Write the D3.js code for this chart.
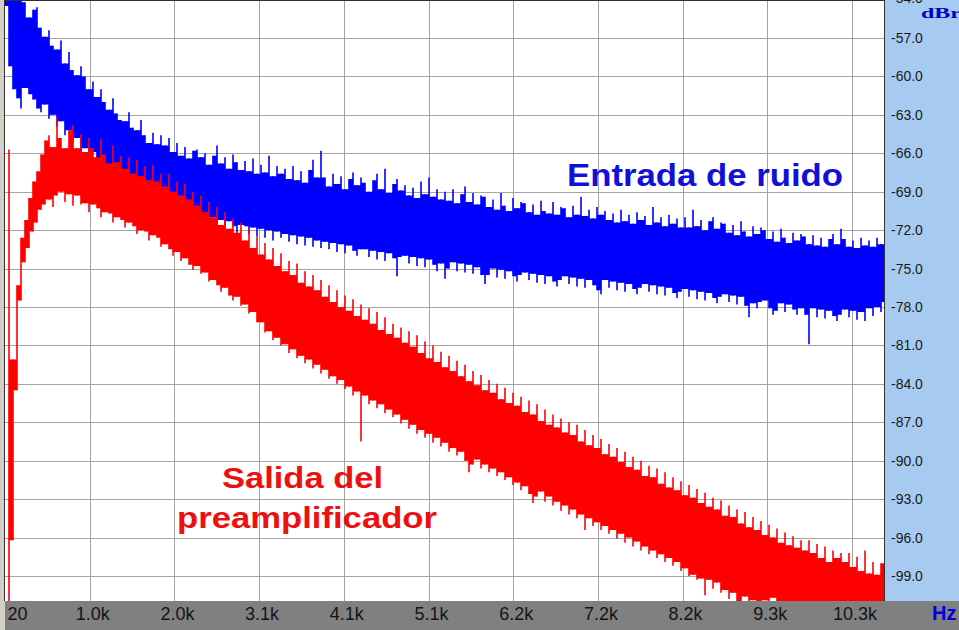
<!DOCTYPE html>
<html><head><meta charset="utf-8">
<script src="https://cdn.jsdelivr.net/npm/d3@7"></script>
<style>html,body{margin:0;padding:0;background:#d4d0c8;overflow:hidden}svg{display:block}</style>
</head><body><svg id="c" width="959" height="630"></svg>
<script>
// ---- data (dB values, one min/max pair per frequency bin) ----
const startHz = 20;
const binHz = 48.44;
const blueUpper = [
-53.0,-53.0,-53.5,-53.0,-53.5,-54.2,-55.4,-54.8,-54.6,-56.2,
-56.9,-56.4,-57.6,-57.9,-57.2,-59.0,-58.1,-59.5,-59.9,-59.2,
-60.0,-61.0,-60.4,-61.6,-61.0,-62.0,-62.6,-61.7,-62.9,-63.4,
-63.5,-62.8,-64.0,-64.2,-63.4,-64.6,-65.2,-64.4,-65.3,-64.6,
-65.4,-64.8,-65.9,-65.2,-66.2,-65.5,-66.4,-65.8,-65.7,-66.3,
-66.0,-66.9,-66.2,-65.4,-66.8,-66.3,-67.2,-66.1,-66.7,-67.3,
-66.6,-67.4,-66.4,-67.6,-66.9,-67.5,-66.2,-67.8,-67.0,-67.6,
-67.2,-68.0,-67.0,-68.1,-67.4,-68.3,-67.3,-66.5,-67.9,-65.8,
-67.9,-68.6,-67.6,-68.4,-67.8,-68.8,-68.0,-67.5,-68.5,-67.9,
-68.3,-69.0,-68.1,-67.6,-68.8,-67.2,-69.1,-68.4,-68.0,-68.9,
-68.5,-69.3,-68.7,-69.5,-68.2,-69.2,-67.9,-69.4,-68.8,-69.6,
-69.0,-69.7,-68.8,-69.9,-69.2,-68.6,-69.8,-69.1,-70.0,-69.3,
-69.4,-70.2,-69.6,-70.4,-69.1,-70.1,-70.5,-69.5,-70.3,-69.8,
-69.9,-70.6,-70.0,-70.8,-69.7,-70.5,-70.7,-69.8,-70.8,-70.2,
-70.3,-71.0,-70.1,-70.8,-69.4,-70.9,-70.4,-71.1,-70.2,-70.8,
-70.5,-71.2,-70.7,-71.4,-70.4,-71.3,-70.8,-71.5,-70.6,-71.2,
-70.9,-71.6,-70.2,-71.4,-71.0,-71.7,-70.8,-71.5,-71.1,-71.8,
-71.0,-71.8,-70.4,-71.7,-71.2,-72.0,-71.3,-71.0,-71.9,-71.4,
-71.5,-72.2,-71.6,-72.4,-71.3,-72.1,-72.5,-71.7,-72.3,-71.8,
-72.0,-72.7,-72.1,-72.9,-71.9,-72.6,-73.0,-72.2,-72.8,-72.3,
-72.5,-73.1,-72.4,-73.2,-72.6,-73.3,-72.7,-72.3,-73.1,-71.9,
-72.7,-73.3,-72.8,-73.4,-72.6,-73.2,-72.8,-73.3,-72.6,-73.1,
-71.8];
const blueLower = [
-54.5,-59.2,-61.0,-61.7,-62.5,-60.9,-61.4,-61.8,-62.5,-62.8,
-62.2,-63.3,-63.0,-63.9,-63.5,-64.6,-64.2,-65.2,-64.8,-65.9,
-65.6,-66.4,-65.9,-66.9,-66.5,-67.5,-67.1,-68.1,-67.8,-68.7,
-68.4,-69.0,-68.7,-69.4,-68.9,-69.6,-69.3,-69.9,-69.5,-70.2,
-69.8,-70.5,-70.0,-70.7,-70.2,-70.9,-70.4,-71.0,-70.5,-71.1,
-70.8,-71.6,-71.0,-71.8,-71.2,-72.0,-71.3,-71.7,-72.2,-71.6,
-71.7,-72.3,-71.8,-72.5,-71.9,-72.6,-72.0,-72.8,-72.1,-72.6,
-72.3,-72.9,-72.4,-73.1,-72.5,-73.2,-72.6,-73.3,-72.8,-73.4,
-72.9,-73.5,-73.0,-73.7,-73.1,-73.8,-73.2,-73.6,-74.0,-73.5,
-73.5,-74.1,-73.6,-74.3,-73.7,-74.4,-73.8,-74.2,-75.6,-74.1,
-74.0,-74.6,-74.1,-74.8,-74.2,-74.9,-74.3,-74.7,-75.2,-74.6,
-75.8,-75.0,-74.5,-75.2,-74.6,-75.3,-74.7,-75.4,-74.9,-75.5,
-76.2,-75.5,-75.0,-75.7,-75.1,-75.8,-75.2,-75.6,-76.0,-75.5,
-75.3,-75.9,-75.4,-76.1,-75.5,-76.2,-75.6,-76.0,-76.4,-75.9,
-75.6,-76.2,-75.7,-76.4,-75.8,-76.5,-75.9,-76.3,-76.7,-77.0,
-75.9,-76.5,-76.0,-76.7,-76.1,-76.8,-76.2,-76.6,-77.0,-76.5,
-76.2,-76.8,-76.3,-77.0,-76.4,-77.1,-76.5,-76.9,-77.3,-76.8,
-76.6,-77.2,-76.7,-77.4,-76.8,-77.5,-76.9,-77.3,-77.7,-77.2,
-77.0,-77.6,-77.1,-77.8,-77.2,-77.9,-78.8,-77.7,-78.1,-77.6,
-77.5,-78.1,-78.6,-78.3,-77.7,-78.4,-77.8,-78.2,-78.6,-78.1,
-78.6,-80.9,-78.1,-78.8,-78.2,-78.9,-78.3,-78.7,-79.1,-78.6,
-78.2,-78.8,-78.3,-79.0,-78.4,-79.1,-78.1,-78.7,-78.0,-78.4,
-77.6];
const redUpper = [
-101.0,-65.7,-82.1,-76.3,-72.6,-71.2,-69.5,-68.2,-67.4,-66.1,
-65.0,-64.6,-65.5,-63.2,-64.8,-65.6,-64.2,-63.8,-65.6,-64.5,
-65.9,-64.8,-65.6,-66.3,-64.9,-66.1,-66.8,-65.4,-66.7,-66.2,
-67.2,-66.3,-67.6,-66.5,-67.8,-67.0,-68.1,-66.9,-68.2,-67.6,
-68.6,-67.6,-69.0,-68.2,-69.3,-68.4,-69.6,-69.0,-70.1,-69.3,
-70.6,-69.8,-71.0,-70.2,-71.6,-70.6,-71.9,-71.1,-72.2,-71.4,
-72.8,-71.9,-73.4,-72.5,-73.9,-73.0,-74.3,-73.4,-74.8,-73.8,
-75.2,-74.4,-75.5,-74.6,-76.1,-75.2,-76.4,-75.5,-76.7,-75.9,
-77.2,-76.3,-77.6,-76.7,-78.0,-77.1,-78.3,-77.4,-78.7,-77.8,
-79.0,-78.1,-79.3,-78.4,-79.8,-78.8,-80.1,-79.3,-80.4,-79.6,
-80.8,-79.9,-81.1,-80.2,-81.6,-80.7,-82.0,-81.0,-82.3,-81.5,
-82.7,-81.8,-83.0,-82.2,-83.4,-82.5,-83.8,-83.0,-84.1,-83.3,
-84.5,-83.7,-84.7,-84.0,-85.2,-84.3,-85.5,-84.7,-85.7,-85.0,
-86.2,-85.3,-86.4,-85.6,-86.9,-86.0,-87.2,-86.4,-87.4,-86.7,
-87.8,-87.0,-88.0,-87.2,-88.5,-87.6,-88.8,-88.0,-89.0,-88.3,
-89.5,-88.7,-89.7,-89.0,-90.1,-89.3,-90.5,-89.7,-90.7,-90.0,
-91.2,-90.4,-91.3,-90.6,-91.8,-90.9,-92.1,-91.3,-92.3,-91.6,
-92.7,-91.9,-92.9,-92.2,-93.3,-92.5,-93.6,-92.9,-93.8,-93.1,
-94.3,-93.5,-94.4,-93.8,-94.9,-94.0,-95.2,-94.4,-95.4,-94.7,
-95.8,-95.0,-96.0,-95.3,-96.4,-95.6,-96.6,-95.9,-96.8,-96.2,
-97.0,-96.2,-97.2,-96.5,-97.6,-96.7,-97.9,-97.0,-97.6,-97.2,
-97.9,-97.2,-98.3,-97.5,-98.6,-97.0,-98.8,-97.9,-98.9,-98.0,
-97.5];
const redLower = [
-102.0,-102.0,-96.2,-84.5,-77.5,-74.5,-73.4,-72.1,-71.4,-70.4,
-70.0,-69.6,-70.2,-69.3,-69.0,-69.8,-69.2,-70.1,-69.3,-70.0,
-69.9,-70.6,-70.0,-70.3,-71.0,-70.6,-70.7,-71.4,-71.0,-71.2,
-71.8,-71.4,-71.7,-72.3,-72.0,-72.1,-72.8,-72.4,-72.6,-73.3,
-73.1,-73.5,-74.0,-73.7,-74.4,-74.2,-74.7,-75.1,-74.8,-75.4,
-75.3,-76.0,-75.9,-76.3,-76.8,-76.5,-77.1,-77.5,-77.2,-77.9,
-77.8,-78.5,-78.4,-79.2,-79.2,-80.0,-79.9,-80.6,-80.4,-81.0,
-80.9,-81.6,-81.3,-82.0,-81.8,-82.4,-82.1,-82.8,-82.5,-83.2,
-82.9,-83.6,-83.4,-84.0,-83.7,-84.4,-84.2,-84.9,-84.6,-88.5,
-84.9,-85.6,-85.3,-85.9,-85.6,-86.3,-86.0,-86.6,-86.4,-87.1,
-86.8,-87.5,-87.2,-87.9,-87.6,-88.2,-87.9,-88.6,-88.2,-88.9,
-88.6,-89.3,-89.0,-89.6,-89.3,-90.0,-90.9,-90.3,-89.9,-90.6,
-90.3,-90.9,-90.6,-91.2,-90.9,-91.5,-91.3,-91.9,-91.7,-92.3,
-92.0,-92.6,-93.3,-92.8,-92.4,-93.2,-92.8,-93.5,-93.2,-93.9,
-93.5,-94.2,-93.8,-94.5,-94.2,-95.4,-94.5,-95.1,-94.8,-95.4,
-95.1,-95.7,-95.4,-96.1,-95.7,-96.4,-96.0,-96.7,-96.3,-97.0,
-96.7,-97.3,-97.0,-97.6,-97.3,-97.9,-97.6,-98.2,-97.9,-98.6,
-98.4,-99.0,-98.9,-99.3,-99.2,-100.5,-99.3,-100.0,-99.5,-100.3,
-100.1,-100.8,-100.3,-101.1,-101.1,-100.6,-101.5,-100.9,-101.6,-101.1,
-100.9,-101.6,-100.7,-101.4,-101.9,-101.0,-101.7,-102.0,-101.3,-101.9,
-101.5,-102.0,-101.8,-102.0,-101.6,-102.0,-101.9,-102.0,-101.7,-102.0,
-102.0,-102.0,-102.0,-102.0,-102.0,-102.0,-102.0,-102.0,-102.0,-102.0,
-102.0];
const xTickValues = [20, 1045.7, 2071.4, 3097.1, 4122.8, 5148.5, 6174.2, 7199.9, 8225.6, 9251.3, 10277];
const xTickLabels = ["20","1.0k","2.0k","3.1k","4.1k","5.1k","6.2k","7.2k","8.2k","9.3k","10.3k"];
const yTickValues = [-54,-57,-60,-63,-66,-69,-72,-75,-78,-81,-84,-87,-90,-93,-96,-99];
const yTickLabels = ["-54.0","-57.0","-60.0","-63.0","-66.0","-69.0","-72.0","-75.0","-78.0","-81.0","-84.0","-87.0","-90.0","-93.0","-96.0","-99.0"];
const seriesNames = ["Entrada de ruido", "Salida del", "preamplificador"];

// ---- layout ----
const svg = d3.select("#c");
const P = {left:5, right:884, top:0, bottom:601};
const x = d3.scaleLinear().domain([20, 10277]).range([5, 852]);
const y = d3.scaleLinear().domain([-57, -99]).range([38, 576]);

svg.append("rect").attr("x",0).attr("y",0).attr("width",959).attr("height",630).attr("fill","#d4d0c8");
svg.append("rect").attr("x",P.left).attr("y",P.top).attr("width",P.right-P.left).attr("height",P.bottom-P.top).attr("fill","#ffffff");
svg.append("rect").attr("x",P.right).attr("y",0).attr("width",959-P.right).attr("height",P.bottom).attr("fill","#a6caf0");
svg.append("rect").attr("x",P.left).attr("y",P.bottom).attr("width",959-P.left).attr("height",630-P.bottom).attr("fill","#808080");

// grid
const grid = svg.append("g").attr("stroke","#a4a4a4").attr("stroke-width",1).attr("shape-rendering","crispEdges");
grid.selectAll(".h").data(yTickValues).join("line")
  .attr("x1",P.left).attr("x2",P.right).attr("y1",d=>Math.round(y(d))+0.5).attr("y2",d=>Math.round(y(d))+0.5);
grid.selectAll(".v").data(xTickValues.slice(1)).join("line")
  .attr("y1",P.top).attr("y2",P.bottom).attr("x1",d=>Math.round(x(d))+0.5).attr("x2",d=>Math.round(x(d))+0.5);

svg.append("clipPath").attr("id","pc").append("rect")
  .attr("x",P.left).attr("y",P.top).attr("width",P.right-P.left).attr("height",P.bottom-P.top);
const plotG = svg.append("g").attr("clip-path","url(#pc)");

// each bin drawn as a vertical hair (its min..max), the overlap of neighbouring bins as a solid core
function band(upper, lower, color){
  const n = upper.length;
  const idx = d3.range(n);
  const fx = i => x(startHz + i*binHz);
  const core = d3.area()
    .curve(d3.curveStepAfter)
    .x(fx)
    .y1(i => y(Math.min(upper[i], upper[Math.min(i+1,n-1)])))
    .y0(i => y(Math.max(lower[i], lower[Math.min(i+1,n-1)])));
  const g = plotG.append("g");
  g.append("path").datum(idx).attr("d", core).attr("fill", color).attr("stroke","none");
  g.selectAll("line").data(idx).join("line")
    .attr("x1", fx).attr("x2", fx)
    .attr("y1", i => y(upper[i])).attr("y2", i => y(lower[i]))
    .attr("stroke", color).attr("stroke-width", 1.6);
}
band(blueUpper, blueLower, "#0000ff");
band(redUpper, redLower, "#ff0000");

// frame
const fr = svg.append("g").attr("stroke","#303030").attr("stroke-width",1).attr("shape-rendering","crispEdges");
fr.append("line").attr("x1",4.5).attr("x2",4.5).attr("y1",0).attr("y2",P.bottom);
fr.append("line").attr("x1",P.right+0.5).attr("x2",P.right+0.5).attr("y1",0).attr("y2",P.bottom);
fr.append("line").attr("x1",4).attr("x2",P.right).attr("y1",0.5).attr("y2",0.5);

// right axis
const yAxis = svg.append("g").attr("transform",`translate(${P.right+1},0)`)
  .call(d3.axisRight(y).tickValues(yTickValues).tickFormat((d,i)=>yTickLabels[i]).tickSize(0).tickPadding(6));
yAxis.select(".domain").remove();
yAxis.selectAll("text").attr("font-family","Liberation Sans, Arial, sans-serif").attr("font-size",14).attr("fill","#1a1a1a");
yAxis.selectAll("text").filter((d,i)=>i===0).attr("dy","0.22em");

// bottom axis
const xAxis = svg.append("g").attr("transform",`translate(0,${P.bottom})`)
  .call(d3.axisBottom(x).tickValues(xTickValues).tickFormat((d,i)=>xTickLabels[i]).tickSize(0));
xAxis.select(".domain").remove();
xAxis.selectAll("text").attr("font-family","Liberation Sans, Arial, sans-serif").attr("font-size",18)
  .attr("fill","#141414").attr("y",19).attr("dy",0).attr("dx",2.5);
xAxis.selectAll("text").filter((d,i)=>i===0).attr("text-anchor","start").attr("dx",2).attr("x",0);

// unit labels
svg.append("text").attr("x",921).attr("y",18).text("dBr")
  .attr("font-family","Liberation Serif, Times New Roman, serif").attr("font-weight","bold").attr("font-size",15).attr("fill","#0000c8")
  .attr("textLength",40).attr("lengthAdjust","spacingAndGlyphs");
svg.append("text").attr("x",932).attr("y",620).text("Hz")
  .attr("font-family","Liberation Sans, Arial, sans-serif").attr("font-weight","bold").attr("font-size",20).attr("fill","#0000e0");

// series annotations
svg.append("text").attr("x",567).attr("y",186).text(seriesNames[0])
  .attr("font-family","Liberation Sans, Arial, sans-serif").attr("font-weight","bold").attr("font-size",32)
  .attr("fill","#1010d8").attr("textLength",276).attr("lengthAdjust","spacingAndGlyphs");
svg.append("text").attr("x",222).attr("y",488).text(seriesNames[1])
  .attr("font-family","Liberation Sans, Arial, sans-serif").attr("font-weight","bold").attr("font-size",29)
  .attr("fill","#ee1010").attr("textLength",161).attr("lengthAdjust","spacingAndGlyphs");
svg.append("text").attr("x",177).attr("y",528).text(seriesNames[2])
  .attr("font-family","Liberation Sans, Arial, sans-serif").attr("font-weight","bold").attr("font-size",29)
  .attr("fill","#ee1010").attr("textLength",260).attr("lengthAdjust","spacingAndGlyphs");
</script></body></html>
